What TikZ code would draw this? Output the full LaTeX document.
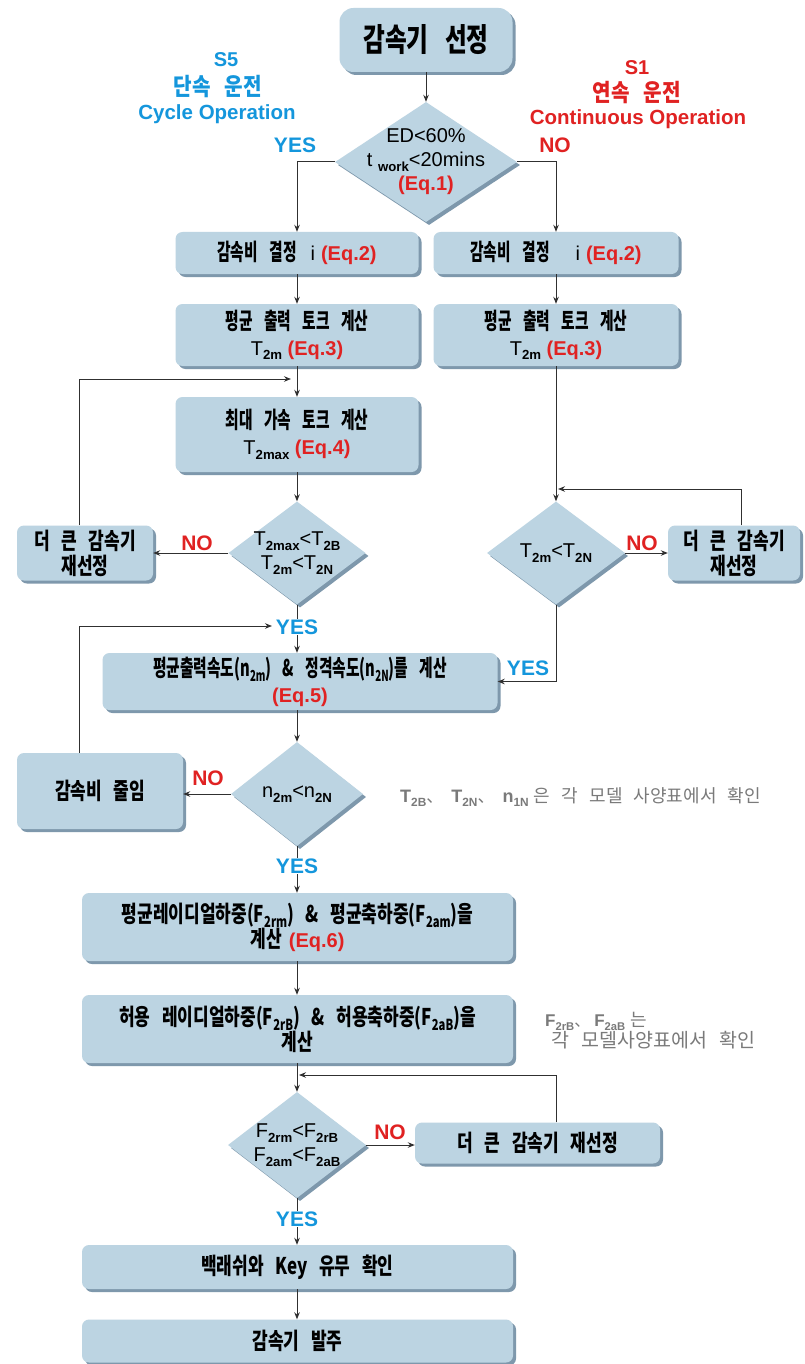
\documentclass[tikz,border=0pt]{standalone}
\usepackage{fontspec}
\setmainfont{Liberation Sans}
\newfontfamily\kr{Noto Sans CJK KR}[FakeStretch=0.64,WordSpace=3.4]
\newfontfamily\krw{Noto Sans CJK KR}[FakeStretch=0.74,WordSpace=3.0]
\newfontfamily\krt{Noto Sans CJK KR}[FakeStretch=0.74,WordSpace=3]
\newfontfamily\krs{Noto Sans CJK KR}[FakeStretch=0.84,WordSpace=3]
\newfontfamily\krg{Noto Sans CJK KR}[WordSpace=2.8]
\usetikzlibrary{shapes.geometric,shadows,arrows.meta}
\definecolor{boxc}{HTML}{BCD4E2}
\definecolor{shc}{HTML}{7E98AC}
\definecolor{redc}{HTML}{E02222}
\definecolor{bluec}{HTML}{1496DC}
\definecolor{grayc}{HTML}{7A7A7A}
\definecolor{linec}{HTML}{303030}
\newcommand\dn[1]{\raisebox{-0.22em}{\scalebox{0.66}{\bfseries #1}}}
\newcommand\eq[1]{{\normalfont\bfseries\fontsize{20}{24}\selectfont\color{redc}(Eq.#1)}}
\newcommand\lat[1]{{\normalfont\fontsize{20}{24}\selectfont #1}}
\tikzset{
 base/.style={fill=boxc, drop shadow={shadow xshift=3pt,shadow yshift=-3pt,fill=shc,opacity=1}},
 box/.style={base, rounded corners=7pt, align=center, inner sep=0pt, font=\kr\bfseries\fontsize{23}{26}\selectfont},
 wbox/.style={box, font=\krw\bfseries\fontsize{23}{25}\selectfont},
 dia/.style={base, diamond, inner sep=0pt},
 dtext/.style={align=center, inner sep=0pt, font=\fontsize{20}{24}\selectfont},
 arr/.style={draw=linec, line width=1pt, -{Stealth[length=7pt,width=5.5pt]}},
 yes/.style={font=\bfseries\fontsize{21}{21}\selectfont, text=bluec, inner sep=1pt},
 no/.style={font=\bfseries\fontsize{21}{21}\selectfont, text=redc, inner sep=1pt},
 note/.style={text=grayc, inner sep=0pt},
}
\begin{document}
\begin{tikzpicture}[x=1pt,y=-1pt]
\useasboundingbox (0,0) rectangle (805,1364);
\fill[white] (0,0) rectangle (805,1364);

% top
\node[box, rounded corners=14pt, minimum width=173pt, minimum height=64pt, font=\krt\bfseries\fontsize{32}{32}\selectfont] (title) at (426,40) {감속기 선정};
\node[dia, minimum width=182pt, minimum height=120pt] (d1) at (426,162) {};
\node[dtext] (d1t) at (d1) {ED<60\%\\t \dn{work}<20mins\\\eq1};

% side labels
\node[font=\bfseries\fontsize{20}{20}\selectfont, text=bluec] (s5a) at (226,60) {S5};
\node[font=\krs\bfseries\fontsize{24}{24}\selectfont, text=bluec] (s5b) at (218,87) {단속 운전};
\node[font=\bfseries\fontsize{20.5}{20}\selectfont, text=bluec] (s5c) at (217,114) {Cycle Operation};
\node[font=\bfseries\fontsize{20}{20}\selectfont, text=redc] (s1a) at (637,68) {S1};
\node[font=\krs\bfseries\fontsize{24}{24}\selectfont, text=redc] (s1b) at (637,93) {연속 운전};
\node[font=\bfseries\fontsize{20.5}{20}\selectfont, text=redc] (s1c) at (638,119) {Continuous Operation};

% left column
\node[box, minimum width=243pt, minimum height=42pt] (l1) at (297,253) {감속비 결정\hspace{14pt}\lat{i}\hspace{6pt}\eq2};
\node[box, minimum width=243pt, minimum height=62pt] (l2) at (297,335) {평균 출력 토크 계산\\{\normalfont\fontsize{20}{24}\selectfont T\dn{2m} \eq3}};
\node[box, minimum width=243pt, minimum height=75pt] (l3) at (297,434.5) {최대 가속 토크 계산\\{\normalfont\fontsize{20}{24}\selectfont T\dn{2max} \eq4}};
\node[dia, minimum width=137pt, minimum height=103pt] (d2) at (297,553) {};
\node[dtext] (d2t) at (d2) {T\dn{2max}<T\dn{2B}\\T\dn{2m}<T\dn{2N}};
\node[wbox, minimum width=136pt, minimum height=55pt] (bl) at (85,553) {더 큰 감속기\\재선정};

% right column
\node[box, minimum width=245pt, minimum height=42pt] (r1) at (556,253) {감속비 결정\hspace{26pt}\lat{i}\hspace{6pt}\eq2};
\node[box, minimum width=245pt, minimum height=62pt] (r2) at (556,335) {평균 출력 토크 계산\\{\normalfont\fontsize{20}{24}\selectfont T\dn{2m} \eq3}};
\node[dia, minimum width=138pt, minimum height=103pt] (dr) at (556,553) {};
\node[dtext] (drt) at (dr) {T\dn{2m}<T\dn{2N}};
\node[wbox, minimum width=132pt, minimum height=55pt] (br) at (734,553) {더 큰 감속기\\재선정};

% lower part
\node[box, minimum width=395pt, minimum height=57pt] (e5) at (300,681.5) {평균출력속도(n\dn{2m}) \& 정격속도(n\dn{2N})를 계산\\\eq5};
\node[dia, minimum width=132pt, minimum height=104pt] (d3) at (297,794) {};
\node[dtext] (d3t) at (d3) {n\dn{2m}<n\dn{2N}};
\node[wbox, minimum width=166pt, minimum height=76pt] (bz) at (100,791) {감속비 줄임};
\node[wbox, minimum width=431pt, minimum height=68pt] (e6) at (297.5,927) {평균레이디얼하중(F\dn{2rm}) \& 평균축하중(F\dn{2am})을\\계산\hspace{7pt}\eq6};
\node[wbox, minimum width=431pt, minimum height=68pt] (e7) at (297.5,1029) {허용 레이디얼하중(F\dn{2rB}) \& 허용축하중(F\dn{2aB})을\\계산};
\node[dia, minimum width=138pt, minimum height=106pt] (d4) at (297,1145) {};
\node[dtext] (d4t) at (d4) {F\dn{2rm}<F\dn{2rB}\\F\dn{2am}<F\dn{2aB}};
\node[wbox, minimum width=245pt, minimum height=41pt] (br2) at (537.5,1143) {더 큰 감속기 재선정};
\node[wbox, minimum width=431pt, minimum height=44pt] (e8) at (297.5,1267) {백래쉬와 Key 유무 확인};
\node[wbox, minimum width=431pt, minimum height=43pt] (e9) at (297.5,1341) {감속기 발주};

% notes
\node[note, anchor=west] (n1) at (400,797) {{\bfseries\fontsize{18}{20}\selectfont T\dn{2B}}{\krg\fontsize{17}{18}\selectfont 、}\hspace{8pt}{\bfseries\fontsize{18}{20}\selectfont T\dn{2N}}{\krg\fontsize{17}{18}\selectfont 、}\hspace{8pt}{\bfseries\fontsize{18}{20}\selectfont n\dn{1N}}\hspace{5pt}{\krg\fontsize{18}{18}\selectfont 은 각 모델 사양표에서 확인}};
\node[note, anchor=west, align=left] (n2) at (545,1031) {{\bfseries\fontsize{17}{23}\selectfont F\dn{2rB}}{\krg\fontsize{16}{23}\selectfont 、}\hspace{4pt}{\bfseries\fontsize{17}{23}\selectfont F\dn{2aB}}\hspace{5pt}{\krg\fontsize{18}{23}\selectfont 는}\\{\krg\fontsize{19.5}{23}\selectfont\hspace{6pt}각 모델사양표에서 확인}};

% helper coordinates
\coordinate (fb1) at (291,379);
\coordinate (fb2) at (272,626);
\coordinate (fb3) at (558,489);
\coordinate (fb4) at (299,1075);

% connectors
\draw[arr] (title.south) -- (d1.north);
\draw[arr] (d1.west) -| (l1.north);
\draw[arr] (d1.east) -| (r1.north);
\draw[arr] (l1.south) -- (l2.north);
\draw[arr] (r1.south) -- (r2.north);
\draw[arr] (l2.south) -- (l3.north);
\draw[arr] (l3.south) -- (d2.north);
\draw[arr] (d2.west) -- (bl.east);
\draw[arr] ([xshift=-6pt]bl.north) |- (fb1);
\draw[arr] (d2.south) -- (d2.south |- e5.north);
\draw[arr] (r2.south) -- (dr.north);
\draw[arr] (dr.east) -- (br.west);
\draw[arr] ([xshift=7pt]br.north) |- (fb3);
\draw[arr] (dr.south) |- (e5.east);
\draw[arr] (e5.south -| d3.north) -- (d3.north);
\draw[arr] (d3.west) -- (d3.west -| bz.east);
\draw[arr] ([xshift=-21pt]bz.north) |- (fb2);
\draw[arr] (d3.south) -- (d3.south |- e6.north);
\draw[arr] (e6.south -| d3.south) -- (e7.north -| d3.south);
\draw[arr] (e7.south -| d4.north) -- (d4.north);
\draw[arr] (d4.east) -- (d4.east -| br2.west);
\draw[arr] ([xshift=18.5pt]br2.north) |- (fb4);
\draw[arr] (d4.south) -- (d4.south |- e8.north);
\draw[arr] (e8.south -| d4.south) -- (e9.north -| d4.south);

% yes / no labels
\node[yes] (y1) at (295,145) {YES};
\node[no] (no1) at (555,145) {NO};
\node[no] (no2) at (197,543) {NO};
\node[no] (no3) at (642,543) {NO};
\node[yes, fill=white] (y2) at (297,627) {YES};
\node[yes] (y3) at (528,668) {YES};
\node[no] (no4) at (208,778) {NO};
\node[yes, fill=white] (y4) at (297,866) {YES};
\node[no] (no5) at (390,1132) {NO};
\node[yes, fill=white] (y5) at (297,1219) {YES};
\end{tikzpicture}
\end{document}
